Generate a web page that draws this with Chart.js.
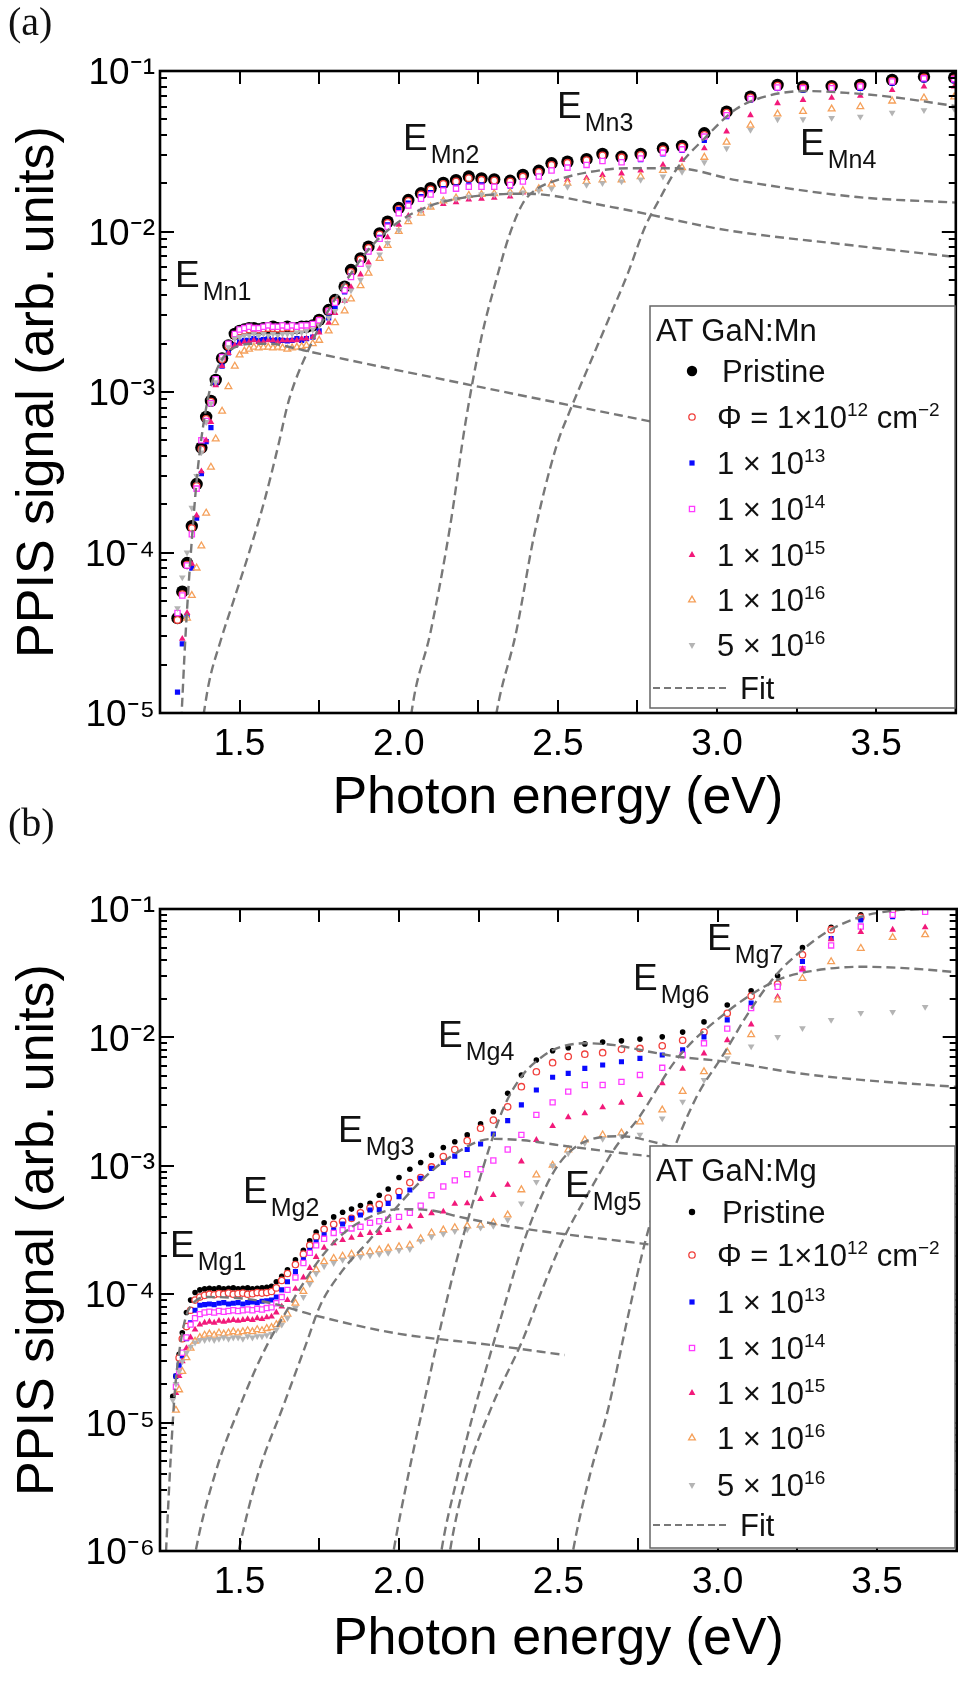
<!DOCTYPE html>
<html><head><meta charset="utf-8">
<script src="https://cdn.jsdelivr.net/npm/chart.js@4.4.1/dist/chart.umd.min.js"></script>
<style>
html,body{margin:0;padding:0;background:#fff;}
#wrap{position:relative;width:962px;height:1683px;overflow:hidden;background:#fff;}
canvas{position:absolute;left:0;}
#ca{top:0;} #cb{top:840px;}
#ov{position:absolute;left:0;top:0;}
</style></head><body>
<div id="wrap">
<canvas id="ca" width="962" height="840"></canvas>
<canvas id="cb" width="962" height="843"></canvas>
<svg id="ov" width="962" height="1683" xmlns="http://www.w3.org/2000/svg"></svg>
</div>
<script>
// ---------------- tick values / labels ----------------
const xTicks = [1.5, 2.0, 2.5, 3.0, 3.5];
const xTickLabels = ['1.5', '2.0', '2.5', '3.0', '3.5'];
const xTickMarks = [1.5, 1.75, 2.0, 2.25, 2.5, 2.75, 3.0, 3.25, 3.5];
const yTicksA = [1e-5, 1e-4, 1e-3, 1e-2, 1e-1];
const yLabelsA = ['10⁻⁵', '10⁻⁴', '10⁻³', '10⁻²', '10⁻¹'];
const yTicksB = [1e-6, 1e-5, 1e-4, 1e-3, 1e-2, 1e-1];
const yLabelsB = ['10⁻⁶', '10⁻⁵', '10⁻⁴', '10⁻³', '10⁻²', '10⁻¹'];

// ---------------- panel (a): AT GaN:Mn ----------------
const Ea = [1.305,1.32,1.335,1.35,1.365,1.38,1.395,1.41,1.425,1.445,1.465,1.485,1.50,1.515,1.53,1.545,1.56,1.575,1.59,1.605,1.62,1.635,1.65,1.665,1.68,1.695,1.71,1.73,1.75,1.78,1.80,1.83,1.85,1.88,1.905,1.94,1.965,2.00,2.03,2.07,2.10,2.14,2.18,2.22,2.26,2.30,2.35,2.39,2.44,2.48,2.53,2.59,2.64,2.70,2.76,2.83,2.89,2.96,3.03,3.105,3.19,3.27,3.36,3.45,3.55,3.65,3.745];
const aPristine = [3.9e-5,5.7e-5,8.6e-5,1.46e-4,2.67e-4,4.5e-4,7.0e-4,8.8e-4,1.19e-3,1.62e-3,1.95e-3,2.3e-3,2.4e-3,2.45e-3,2.5e-3,2.5e-3,2.45e-3,2.5e-3,2.5e-3,2.55e-3,2.5e-3,2.5e-3,2.55e-3,2.5e-3,2.5e-3,2.55e-3,2.55e-3,2.6e-3,2.81e-3,3.24e-3,3.74e-3,4.53e-3,5.75e-3,6.8e-3,8.04e-3,9.74e-3,1.15e-2,1.40e-2,1.57e-2,1.73e-2,1.86e-2,2.01e-2,2.09e-2,2.2e-2,2.14e-2,2.11e-2,2.07e-2,2.25e-2,2.39e-2,2.66e-2,2.72e-2,2.82e-2,3.04e-2,2.92e-2,3.04e-2,3.3e-2,3.41e-2,4.09e-2,5.58e-2,6.92e-2,8.18e-2,7.98e-2,8.05e-2,8.18e-2,8.79e-2,9.22e-2,9.1e-2];
const a1e12 = [3.8e-5,5.5e-5,8.4e-5,1.42e-4,2.6e-4,4.4e-4,6.8e-4,8.7e-4,1.17e-3,1.6e-3,1.93e-3,2.25e-3,2.38e-3,2.42e-3,2.45e-3,2.48e-3,2.45e-3,2.48e-3,2.5e-3,2.5e-3,2.48e-3,2.5e-3,2.52e-3,2.5e-3,2.48e-3,2.5e-3,2.55e-3,2.6e-3,2.8e-3,3.2e-3,3.7e-3,4.5e-3,5.6e-3,6.7e-3,7.9e-3,9.6e-3,1.13e-2,1.38e-2,1.55e-2,1.7e-2,1.83e-2,1.98e-2,2.05e-2,2.15e-2,2.1e-2,2.08e-2,2.05e-2,2.2e-2,2.35e-2,2.6e-2,2.68e-2,2.78e-2,2.98e-2,2.9e-2,3.0e-2,3.25e-2,3.38e-2,4.0e-2,5.5e-2,6.85e-2,8.1e-2,7.9e-2,8.0e-2,8.1e-2,8.7e-2,9.1e-2,9.0e-2];
const a1e13 = [1.35e-5,2.7e-5,4.0e-5,8.0e-5,1.64e-4,3.1e-4,4.9e-4,6.0e-4,1.12e-3,1.45e-3,1.75e-3,1.95e-3,2.05e-3,2.1e-3,2.1e-3,2.15e-3,2.1e-3,2.12e-3,2.15e-3,2.1e-3,2.12e-3,2.1e-3,2.08e-3,2.1e-3,2.15e-3,2.1e-3,2.15e-3,2.2e-3,2.4e-3,2.9e-3,3.4e-3,4.2e-3,5.3e-3,6.3e-3,7.5e-3,9.2e-3,1.1e-2,1.37e-2,1.5e-2,1.65e-2,1.75e-2,1.85e-2,1.9e-2,1.95e-2,1.95e-2,1.9e-2,1.92e-2,2.05e-2,2.2e-2,2.4e-2,2.5e-2,2.6e-2,2.75e-2,2.7e-2,2.8e-2,3.05e-2,3.2e-2,3.7e-2,5.2e-2,6.6e-2,7.8e-2,7.6e-2,7.7e-2,7.8e-2,8.4e-2,8.8e-2,8.7e-2];
const a1e14 = [4.2e-5,5.4e-5,8.3e-5,1.3e-4,2.5e-4,5.0e-4,6.6e-4,8.5e-4,1.2e-3,1.65e-3,2.0e-3,2.3e-3,2.45e-3,2.5e-3,2.55e-3,2.5e-3,2.5e-3,2.55e-3,2.6e-3,2.55e-3,2.55e-3,2.6e-3,2.55e-3,2.6e-3,2.55e-3,2.6e-3,2.6e-3,2.65e-3,2.8e-3,3.2e-3,3.6e-3,4.3e-3,5.2e-3,6.3e-3,7.5e-3,9.0e-3,1.07e-2,1.3e-2,1.45e-2,1.6e-2,1.7e-2,1.8e-2,1.85e-2,1.9e-2,1.9e-2,1.9e-2,1.95e-2,2.05e-2,2.2e-2,2.4e-2,2.5e-2,2.6e-2,2.75e-2,2.7e-2,2.85e-2,3.1e-2,3.25e-2,3.9e-2,5.3e-2,6.7e-2,7.9e-2,7.8e-2,7.8e-2,8.0e-2,8.6e-2,9.0e-2,8.9e-2];
const a1e15 = [null,2.9e-5,4.2e-5,8.5e-5,1.7e-4,3.2e-4,5.0e-4,6.5e-4,1.1e-3,1.45e-3,1.75e-3,1.95e-3,2.0e-3,2.05e-3,2.05e-3,2.1e-3,2.05e-3,2.05e-3,2.1e-3,2.1e-3,2.05e-3,2.1e-3,2.1e-3,2.1e-3,2.1e-3,2.15e-3,2.15e-3,2.2e-3,2.35e-3,2.7e-3,3.1e-3,3.7e-3,4.5e-3,5.4e-3,6.4e-3,7.8e-3,9.2e-3,1.1e-2,1.25e-2,1.35e-2,1.42e-2,1.48e-2,1.52e-2,1.58e-2,1.6e-2,1.62e-2,1.65e-2,1.75e-2,1.85e-2,2.0e-2,2.1e-2,2.15e-2,2.25e-2,2.3e-2,2.4e-2,2.6e-2,2.8e-2,3.3e-2,4.2e-2,5.3e-2,6.3e-2,6.6e-2,6.8e-2,7.0e-2,7.6e-2,8.0e-2,8.0e-2];
const a1e16 = [null,null,3.9e-5,5.4e-5,8.0e-5,1.1e-4,1.76e-4,3.4e-4,5.1e-4,7.6e-4,1.08e-3,1.45e-3,1.7e-3,1.8e-3,1.85e-3,1.9e-3,1.88e-3,1.9e-3,1.9e-3,1.88e-3,1.9e-3,1.88e-3,1.85e-3,1.88e-3,1.9e-3,1.92e-3,1.95e-3,2.0e-3,2.1e-3,2.4e-3,2.7e-3,3.2e-3,3.8e-3,4.6e-3,5.5e-3,6.8e-3,8.2e-3,1.0e-2,1.15e-2,1.3e-2,1.42e-2,1.55e-2,1.62e-2,1.68e-2,1.7e-2,1.72e-2,1.75e-2,1.8e-2,1.85e-2,1.97e-2,2.0e-2,2.05e-2,2.1e-2,2.1e-2,2.2e-2,2.4e-2,2.5e-2,2.9e-2,3.6e-2,4.6e-2,5.4e-2,5.6e-2,5.8e-2,6.0e-2,6.5e-2,6.8e-2,6.9e-2];
const a5e16 = [4.5e-5,7.0e-5,1.0e-4,1.9e-4,3.0e-4,4.2e-4,6.5e-4,8.5e-4,1.15e-3,1.6e-3,1.9e-3,2.15e-3,2.2e-3,2.25e-3,2.25e-3,2.3e-3,2.25e-3,2.3e-3,2.25e-3,2.3e-3,2.25e-3,2.3e-3,2.3e-3,2.3e-3,2.35e-3,2.35e-3,2.4e-3,2.45e-3,2.6e-3,2.9e-3,3.2e-3,3.7e-3,4.3e-3,5.0e-3,6.0e-3,7.2e-3,8.5e-3,1.02e-2,1.2e-2,1.35e-2,1.45e-2,1.55e-2,1.6e-2,1.65e-2,1.7e-2,1.7e-2,1.72e-2,1.75e-2,1.8e-2,1.85e-2,1.9e-2,1.95e-2,2.0e-2,2.05e-2,2.1e-2,2.2e-2,2.35e-2,2.7e-2,3.3e-2,4.3e-2,5.0e-2,5.0e-2,5.1e-2,5.2e-2,5.5e-2,5.7e-2,5.8e-2];

// fit components, panel (a)
const fitA1E = [1.312,1.318,1.33,1.35,1.37,1.40,1.43,1.46,1.50,1.55,1.60,1.65,1.70,2.25,2.80];
const fitA1V = [6e-6,1e-5,3e-5,1.2e-4,3.5e-4,9e-4,1.4e-3,1.75e-3,1.95e-3,2.0e-3,2.0e-3,1.92e-3,1.82e-3,1.08e-3,6.5e-4];
const fitA2E = [1.38,1.404,1.44,1.481,1.53,1.578,1.62,1.655,1.72,1.80,1.90,2.00,2.10,2.20,2.30,2.40,2.67,3.03,3.40,3.76];
const fitA2V = [8e-6,1.55e-5,2.8e-5,5e-5,1.0e-4,2.1e-4,4.5e-4,8.9e-4,1.9e-3,3.8e-3,7.5e-3,1.15e-2,1.45e-2,1.62e-2,1.7e-2,1.72e-2,1.42e-2,1.02e-2,8.3e-3,6.9e-3];
const fitA3E = [2.035,2.04,2.10,2.16,2.21,2.26,2.30,2.35,2.39,2.43,2.50,2.60,2.72,2.87,3.06,3.44,3.76];
const fitA3V = [8e-6,1e-5,3.2e-5,1.4e-4,6.5e-4,2.2e-3,4.5e-3,9.8e-3,1.5e-2,1.82e-2,2.1e-2,2.35e-2,2.48e-2,2.48e-2,2.09e-2,1.64e-2,1.51e-2];
const fitA4E = [2.30,2.307,2.369,2.426,2.494,2.542,2.60,2.658,2.72,2.774,2.82,2.87,2.966,3.06,3.16,3.28,3.41,3.546,3.76];
const fitA4V = [8e-6,1e-5,3.2e-5,1.3e-4,4.5e-4,8e-4,1.5e-3,2.8e-3,5.5e-3,1.07e-2,1.6e-2,2.4e-2,3.9e-2,5.8e-2,7.0e-2,7.5e-2,7.3e-2,6.9e-2,6.0e-2];

// ---------------- panel (b): AT GaN:Mg ----------------
const Eb = [1.29,1.30,1.31,1.32,1.333,1.346,1.36,1.375,1.39,1.405,1.42,1.435,1.45,1.465,1.48,1.495,1.51,1.525,1.54,1.555,1.57,1.585,1.60,1.615,1.632,1.65,1.675,1.70,1.72,1.74,1.765,1.795,1.823,1.851,1.879,1.909,1.938,1.966,2.00,2.034,2.068,2.102,2.139,2.175,2.214,2.256,2.296,2.341,2.384,2.431,2.482,2.531,2.583,2.639,2.698,2.756,2.826,2.89,2.957,3.03,3.105,3.188,3.266,3.356,3.449,3.549,3.651,3.745];
const bPristine = [1.6e-5,2.3e-5,3.4e-5,5.0e-5,7.2e-5,9.0e-5,1.03e-4,1.08e-4,1.1e-4,1.11e-4,1.1e-4,1.12e-4,1.1e-4,1.11e-4,1.12e-4,1.1e-4,1.11e-4,1.12e-4,1.1e-4,1.11e-4,1.12e-4,1.13e-4,1.15e-4,1.25e-4,1.38e-4,1.55e-4,1.85e-4,2.2e-4,2.6e-4,3.05e-4,3.6e-4,4.0e-4,4.35e-4,4.6e-4,4.9e-4,5.1e-4,5.9e-4,6.6e-4,8.1e-4,9.4e-4,1.06e-3,1.21e-3,1.39e-3,1.54e-3,1.74e-3,2.12e-3,2.64e-3,3.67e-3,5.1e-3,6.67e-3,7.87e-3,8.3e-3,8.9e-3,9.2e-3,9.4e-3,9.7e-3,1.01e-2,1.1e-2,1.32e-2,1.79e-2,2.31e-2,3.02e-2,5.0e-2,7.2e-2,9.0e-2,9.8e-2,null,null];
const b1e12 = [null,null,3.2e-5,4.5e-5,5.6e-5,7.5e-5,9.0e-5,9.5e-5,9.8e-5,1.0e-4,9.9e-5,1.01e-4,1.0e-4,1.02e-4,1.0e-4,1.01e-4,1.02e-4,1.0e-4,1.01e-4,1.03e-4,1.02e-4,1.03e-4,1.05e-4,1.12e-4,1.28e-4,1.45e-4,1.7e-4,2.05e-4,2.4e-4,2.8e-4,3.2e-4,3.5e-4,3.7e-4,3.9e-4,4.3e-4,4.7e-4,5.0e-4,5.6e-4,6.3e-4,7.4e-4,8.1e-4,9.8e-4,1.18e-3,1.34e-3,1.57e-3,1.96e-3,2.27e-3,2.88e-3,4.13e-3,5.4e-3,6.35e-3,7.1e-3,7.4e-3,7.6e-3,8.07e-3,8.2e-3,8.6e-3,9.5e-3,1.1e-2,1.54e-2,2.1e-2,2.6e-2,4.4e-2,6.9e-2,8.6e-2,9.8e-2,null,null];
const b1e13 = [null,2.3e-5,2.8e-5,3.3e-5,4.5e-5,6.0e-5,7.5e-5,8.2e-5,8.3e-5,8.4e-5,8.3e-5,8.5e-5,8.6e-5,8.4e-5,8.5e-5,8.6e-5,8.4e-5,8.6e-5,8.7e-5,8.6e-5,8.8e-5,8.9e-5,9.0e-5,9.5e-5,1.08e-4,1.25e-4,1.5e-4,1.85e-4,2.2e-4,2.55e-4,2.9e-4,3.16e-4,3.52e-4,3.9e-4,4.14e-4,4.53e-4,4.55e-4,5.1e-4,5.75e-4,6.48e-4,8.0e-4,9.55e-4,1.06e-3,1.19e-3,1.34e-3,1.48e-3,1.77e-3,2.25e-3,2.98e-3,3.89e-3,4.89e-3,5.25e-3,5.74e-3,6.1e-3,6.47e-3,6.87e-3,7.3e-3,8.0e-3,1.01e-2,1.37e-2,1.85e-2,2.48e-2,3.9e-2,5.9e-2,8.2e-2,8.7e-2,null,null];
const b1e14 = [null,1.9e-5,2.5e-5,3.5e-5,4.6e-5,5.8e-5,6.5e-5,7.0e-5,7.2e-5,7.3e-5,7.2e-5,7.4e-5,7.3e-5,7.4e-5,7.5e-5,7.4e-5,7.5e-5,7.6e-5,7.5e-5,7.7e-5,7.6e-5,7.8e-5,7.9e-5,8.5e-5,9.5e-5,1.08e-4,1.35e-4,1.75e-4,2.1e-4,2.4e-4,2.7e-4,3.0e-4,3.15e-4,3.25e-4,3.35e-4,3.6e-4,3.7e-4,3.8e-4,4.0e-4,4.3e-4,4.9e-4,5.9e-4,6.9e-4,7.7e-4,8.6e-4,9.4e-4,1.1e-3,1.34e-3,1.74e-3,2.49e-3,3.12e-3,3.78e-3,4.26e-3,4.26e-3,4.5e-3,5.1e-3,5.8e-3,7.3e-3,9.0e-3,1.17e-2,1.69e-2,2.48e-2,3.4e-2,5.2e-2,7.3e-2,9.0e-2,9.5e-2,null];
const b1e15 = [null,1.7e-5,2.3e-5,3.0e-5,3.8e-5,4.6e-5,5.3e-5,5.8e-5,6.0e-5,6.1e-5,6.0e-5,6.2e-5,6.1e-5,6.2e-5,6.3e-5,6.2e-5,6.3e-5,6.4e-5,6.3e-5,6.5e-5,6.4e-5,6.6e-5,6.7e-5,7.2e-5,8.0e-5,9.0e-5,1.1e-4,1.35e-4,1.6e-4,1.95e-4,2.3e-4,2.49e-4,2.64e-4,2.75e-4,2.89e-4,3.0e-4,3.0e-4,3.16e-4,3.26e-4,3.36e-4,4.06e-4,4.27e-4,4.4e-4,5.05e-4,5.1e-4,5.5e-4,5.93e-4,7.1e-4,1.08e-3,1.59e-3,2.04e-3,2.39e-3,2.56e-3,2.85e-3,3.1e-3,3.56e-3,4.4e-3,5.7e-3,7.5e-3,9.5e-3,1.26e-2,2.07e-2,3.4e-2,5.8e-2,6.6e-2,6.9e-2,7.2e-2,null];
const b1e16 = [null,1.25e-5,1.8e-5,2.5e-5,3.2e-5,3.8e-5,4.3e-5,4.6e-5,4.8e-5,4.9e-5,4.8e-5,5.0e-5,4.9e-5,5.0e-5,5.1e-5,5.0e-5,5.1e-5,5.2e-5,5.1e-5,5.3e-5,5.2e-5,5.4e-5,5.5e-5,5.8e-5,6.3e-5,7.0e-5,8.5e-5,1.05e-4,1.3e-4,1.55e-4,1.79e-4,1.9e-4,1.98e-4,2.05e-4,2.1e-4,2.14e-4,2.21e-4,2.28e-4,2.34e-4,2.41e-4,2.7e-4,3.0e-4,3.16e-4,3.3e-4,3.4e-4,3.45e-4,3.6e-4,4.14e-4,6.5e-4,8.5e-4,1.01e-3,1.33e-3,1.59e-3,1.74e-3,1.8e-3,2.2e-3,2.72e-3,3.8e-3,5.4e-3,7.7e-3,1.05e-2,1.96e-2,2.88e-2,3.89e-2,4.94e-2,6.0e-2,6.3e-2,null];
const b5e16 = [1.5e-5,2.0e-5,2.5e-5,3.0e-5,3.5e-5,3.9e-5,4.2e-5,4.4e-5,4.4e-5,4.5e-5,4.4e-5,4.5e-5,4.6e-5,4.5e-5,4.6e-5,4.6e-5,4.5e-5,4.7e-5,4.6e-5,4.7e-5,4.7e-5,4.8e-5,4.9e-5,5.3e-5,5.8e-5,6.5e-5,7.8e-5,9.5e-5,1.2e-4,1.45e-4,1.65e-4,1.75e-4,1.85e-4,1.9e-4,1.95e-4,2.0e-4,2.05e-4,2.1e-4,2.2e-4,2.25e-4,2.6e-4,2.8e-4,2.95e-4,3.1e-4,3.2e-4,3.3e-4,3.4e-4,3.8e-4,5.1e-4,7.5e-4,1.0e-3,1.25e-3,1.5e-3,1.62e-3,1.7e-3,1.75e-3,2.34e-3,3.16e-3,4.66e-3,6.9e-3,8.5e-3,1.01e-2,1.18e-2,1.37e-2,1.55e-2,1.58e-2,1.73e-2,null];

// fit components, panel (b)
const fitB1E = [1.265,1.269,1.283,1.297,1.31,1.33,1.36,1.40,1.50,1.60,1.73,1.982,2.296,2.52];
const fitB1V = [6e-7,1e-6,5e-6,1.8e-5,3.5e-5,6.5e-5,8.8e-5,9.5e-5,9.3e-5,8.5e-5,6.9e-5,5.0e-5,4.0e-5,3.36e-5];
const fitB2E = [1.356,1.362,1.423,1.50,1.578,1.655,1.713,1.76,1.82,1.90,2.00,2.10,2.19,2.35,2.756,3.0];
const fitB2V = [8e-7,1e-6,4e-6,1.33e-5,3.67e-5,8e-5,1.37e-4,2.0e-4,2.9e-4,3.9e-4,4.6e-4,4.5e-4,4.0e-4,3.36e-4,2.49e-4,2.1e-4];
const fitB3E = [1.49,1.497,1.558,1.636,1.713,1.751,1.82,1.905,2.0,2.1,2.2,2.26,2.30,2.39,2.50,2.756,3.0];
const fitB3V = [8e-7,1e-6,4e-6,1.33e-5,4.4e-5,8e-5,1.5e-4,2.6e-4,5e-4,9e-4,1.35e-3,1.58e-3,1.62e-3,1.58e-3,1.45e-3,1.21e-3,1.05e-3];
const fitB4E = [1.977,1.983,2.03,2.08,2.13,2.18,2.23,2.28,2.33,2.388,2.436,2.484,2.58,2.677,2.79,2.87,3.02,3.256,3.45,3.76];
const fitB4V = [8e-7,1e-6,4e-6,1.5e-5,5.5e-5,1.8e-4,5e-4,1.3e-3,2.9e-3,5.1e-3,6.67e-3,8e-3,9e-3,8.7e-3,7.7e-3,7.1e-3,6.5e-3,5.25e-3,4.67e-3,4.1e-3];
const fitB5E = [2.128,2.133,2.18,2.23,2.28,2.33,2.38,2.43,2.48,2.53,2.60,2.70,2.79,2.90,3.0];
const fitB5V = [8e-7,1e-6,3.5e-6,1.1e-5,3e-5,8e-5,2.1e-4,4.6e-4,8.5e-4,1.25e-3,1.6e-3,1.7e-3,1.55e-3,1.3e-3,1.1e-3];
const fitB6E = [2.155,2.16,2.214,2.291,2.388,2.45,2.513,2.60,2.68,2.754,2.87,3.025,3.188,3.30,3.449,3.60,3.76];
const fitB6V = [8e-7,1e-6,4e-6,1.33e-5,4.4e-5,1.1e-4,2.6e-4,6.5e-4,1.4e-3,2.4e-3,6.7e-3,1.55e-2,2.8e-2,3.3e-2,3.55e-2,3.45e-2,3.2e-2];
const fitB7E = [2.54,2.546,2.60,2.658,2.716,2.774,2.85,2.93,3.02,3.10,3.188,3.266,3.35,3.45,3.55,3.64,3.76];
const fitB7V = [8e-7,1e-6,4e-6,1.33e-5,6.3e-5,2.65e-4,1.1e-3,3.3e-3,7.5e-3,1.6e-2,3.16e-2,4.8e-2,6.8e-2,8.7e-2,9.7e-2,1.0e-1,1.02e-1];

// ---------------- styles ----------------
const FONT = "'Liberation Sans', Arial, Helvetica, sans-serif";
Chart.defaults.font.family = FONT;
Chart.defaults.color = '#000';

const seriesStyle = [
  {label: 'Pristine',        ps: 'circle',   bg: '#000000', bd: '#000000', bw: 0,   rot: 0},
  {label: 'Φ = 1×10¹² cm⁻²', ps: 'circle',   bg: '#ffffff', bd: '#f0403c', bw: 1.3, rot: 0},
  {label: '1 × 10¹³',        ps: 'rect',     bg: '#0a0aff', bd: '#0a0aff', bw: 0,   rot: 0},
  {label: '1 × 10¹⁴',        ps: 'rect',     bg: '#ffffff', bd: '#ff3cff', bw: 1.3, rot: 0},
  {label: '1 × 10¹⁵',        ps: 'triangle', bg: '#f2197a', bd: '#f2197a', bw: 0,   rot: 0},
  {label: '1 × 10¹⁶',        ps: 'triangle', bg: '#ffffff', bd: '#f5a05a', bw: 1.3, rot: 0},
  {label: '5 × 10¹⁶',        ps: 'triangle', bg: '#b4b4b4', bd: '#b4b4b4', bw: 0,   rot: 180},
];
const radiiA = [6.2, 3.3, 3.7, 3.7, 3.9, 3.9, 3.9];
const radiiB = [2.8, 3.2, 3.6, 3.6, 3.9, 3.9, 3.9];

function pts(E, V) {
  const out = [];
  for (let i = 0; i < E.length; i++) if (V[i] != null) out.push({x: E[i], y: V[i]});
  return out;
}

function dataSets(E, series, radii, fits) {
  const ds = [];
  fits.forEach(f => ds.push({
    data: pts(f[0], f[1]), showLine: true, borderColor: '#787878', borderWidth: 2.4,
    borderDash: [9, 5], pointRadius: 0, cubicInterpolationMode: 'monotone', fill: false, order: 0
  }));
  series.forEach((v, i) => {
    const s = seriesStyle[i];
    ds.push({
      label: s.label, data: pts(E, v), showLine: false,
      pointStyle: s.ps, pointRadius: radii[i], pointRotation: s.rot,
      pointBackgroundColor: s.bg, pointBorderColor: s.bd, pointBorderWidth: s.bw,
      order: 10 - i
    });
  });
  return ds;
}

const framePlugin = {
  id: 'frame',
  afterDatasetsDraw(chart, args, o) {
    const {ctx, chartArea: a} = chart;
    const xs = chart.scales.x, ys = chart.scales.y;
    ctx.save();
    ctx.strokeStyle = '#000';
    ctx.lineWidth = 2;
    ctx.beginPath();
    for (const v of xTickMarks) {
      const px = Math.round(xs.getPixelForValue(v));
      ctx.moveTo(px, a.bottom); ctx.lineTo(px, a.bottom - 13);
      ctx.moveTo(px, a.top); ctx.lineTo(px, a.top + 13);
    }
    for (let e = o.e0; e < o.e1; e++) {
      for (let m = 1; m < 10; m++) {
        const py = Math.round(ys.getPixelForValue(m * Math.pow(10, e)));
        const L = m === 1 ? 14 : 7;
        ctx.moveTo(a.left, py); ctx.lineTo(a.left + L, py);
        ctx.moveTo(a.right, py); ctx.lineTo(a.right - L, py);
      }
    }
    ctx.stroke();
    ctx.lineWidth = 2.6;
    ctx.strokeRect(a.left, a.top, a.right - a.left, a.bottom - a.top);
    ctx.restore();
  }
};

function makeChart(id, cfg) {
  return new Chart(document.getElementById(id), {
    type: 'scatter',
    data: {datasets: cfg.datasets},
    plugins: [framePlugin],
    options: {
      responsive: false, animation: false, devicePixelRatio: 1, events: [],
      layout: {padding: {top: cfg.padTop, right: 5, left: 0, bottom: 0}},
      plugins: {legend: {display: false}, tooltip: {enabled: false}, frame: {e0: cfg.e0, e1: cfg.e1}},
      scales: {
        x: {
          type: 'linear', min: 1.25, max: 3.75,
          afterBuildTicks: s => { s.ticks = xTicks.map(v => ({value: v})); },
          afterFit: s => { s.height = cfg.xHeight; },
          ticks: {callback: v => xTickLabels[xTicks.indexOf(v)], font: {size: 37}, color: '#000', padding: 10, maxRotation: 0, autoSkip: false},
          grid: {display: false, drawTicks: false}, border: {display: false},
          title: {display: true, text: 'Photon energy (eV)', font: {size: 52}, color: '#000', padding: {top: 0, bottom: cfg.xTitlePad}}
        },
        y: {
          type: 'logarithmic', min: cfg.yMin, max: 1e-1,
          afterBuildTicks: s => { s.ticks = cfg.yTicks.map(v => ({value: v})); },
          afterFit: s => { s.width = 160; },
          ticks: {callback: v => cfg.yLabels[cfg.yTicks.indexOf(v)], font: {size: 37}, color: '#000', padding: 5, labelOffset: 3, autoSkip: false},
          grid: {display: false, drawTicks: false}, border: {display: false},
          title: {display: true, text: 'PPIS signal (arb. units)', font: {size: 52}, color: '#000', padding: {top: 7, bottom: 0}}
        }
      }
    }
  });
}

makeChart('ca', {
  datasets: dataSets(Ea, [aPristine, a1e12, a1e13, a1e14, a1e15, a1e16, a5e16], radiiA,
    [[fitA1E, fitA1V], [fitA2E, fitA2V], [fitA3E, fitA3V], [fitA4E, fitA4V]]),
  padTop: 71, xHeight: 127, xTitlePad: 10, yMin: 1e-5, yTicks: yTicksA, yLabels: yLabelsA, e0: -5, e1: -1
});
makeChart('cb', {
  datasets: dataSets(Eb, [bPristine, b1e12, b1e13, b1e14, b1e15, b1e16, b5e16], radiiB,
    [[fitB1E, fitB1V], [fitB2E, fitB2V], [fitB3E, fitB3V], [fitB4E, fitB4V], [fitB5E, fitB5V], [fitB6E, fitB6V], [fitB7E, fitB7V]]),
  padTop: 69, xHeight: 132, xTitlePad: 12, yMin: 1e-6, yTicks: yTicksB, yLabels: yLabelsB, e0: -6, e1: -1
});

// ---------------- overlay: panel letters, peak labels, legends ----------------
const SANS = 'Liberation Sans, Arial, sans-serif';
function eLabel(x, y, sub) {
  return `<text x="${x}" y="${y}" font-family="${SANS}" font-size="37" fill="#111">E<tspan dx="3" dy="13" font-size="25">${sub}</tspan></text>`;
}
function marker(i, cx, cy, big) {
  const s = seriesStyle[i];
  const sw = s.bw ? 1.3 : 0;
  if (s.ps === 'circle') return `<circle cx="${cx}" cy="${cy}" r="${big ? big : 3.2}" fill="${s.bg}" stroke="${s.bd}" stroke-width="${sw}"/>`;
  if (s.ps === 'rect') return `<rect x="${cx - 2.6}" y="${cy - 2.6}" width="5.2" height="5.2" fill="${s.bg}" stroke="${s.bd}" stroke-width="${sw}"/>`;
  const r = 3.9, h = r / 2, w = r * 0.866;
  const p = s.rot ? `${cx},${cy + r} ${cx + w},${cy - h} ${cx - w},${cy - h}` : `${cx},${cy - r} ${cx + w},${cy + h} ${cx - w},${cy + h}`;
  return `<polygon points="${p}" fill="${s.bg}" stroke="${s.bd}" stroke-width="${sw}"/>`;
}
function sup(t) { return `<tspan dy="-12" font-size="19">${t}</tspan>`; }
function legend(top, bottom, title, rows, bigDot) {
  let s = `<rect x="650" y="${top}" width="305" height="${bottom - top}" fill="#fff" stroke="#666" stroke-width="1.5"/>`;
  const T = (x, y, inner) => `<text x="${x}" y="${y + 11}" font-family="${SANS}" font-size="31" fill="#111">${inner}</text>`;
  s += T(656, rows[0], title);
  const labels = [
    'Pristine',
    `Φ = 1×10${sup('12')}<tspan dy="12"> cm</tspan>${sup('−2')}`,
    `1 × 10${sup('13')}`, `1 × 10${sup('14')}`, `1 × 10${sup('15')}`, `1 × 10${sup('16')}`, `5 × 10${sup('16')}`
  ];
  for (let i = 0; i < 7; i++) {
    s += marker(i, 692, rows[i + 1], i === 0 ? bigDot : 0);
    s += T(i === 0 ? 722 : 717, rows[i + 1], labels[i]);
  }
  const fy = rows[8];
  s += `<line x1="653" y1="${fy}" x2="730" y2="${fy}" stroke="#787878" stroke-width="2" stroke-dasharray="7 4"/>`;
  s += T(740, fy, 'Fit');
  return s;
}

let svg = '';
svg += `<text x="8" y="35" font-family="Liberation Serif, Times New Roman, serif" font-size="40" fill="#111">(a)</text>`;
svg += `<text x="8" y="836" font-family="Liberation Serif, Times New Roman, serif" font-size="40" fill="#111">(b)</text>`;
svg += eLabel(175, 287, 'Mn1') + eLabel(403, 150, 'Mn2') + eLabel(557, 118, 'Mn3') + eLabel(800, 155, 'Mn4');
svg += eLabel(170, 1257, 'Mg1') + eLabel(243, 1203, 'Mg2') + eLabel(338, 1142, 'Mg3') + eLabel(438, 1047, 'Mg4') +
       eLabel(565, 1197, 'Mg5') + eLabel(633, 990, 'Mg6') + eLabel(707, 950, 'Mg7');
svg += legend(306, 708, 'AT GaN:Mn', [330, 371, 417, 463, 509, 555, 600, 645, 688], 5.2);
svg += legend(1146, 1548, 'AT GaN:Mg', [1170, 1212, 1255, 1302, 1348, 1393, 1438, 1485, 1525], 3.2);
document.getElementById('ov').innerHTML = svg;
</script>
</body></html>
